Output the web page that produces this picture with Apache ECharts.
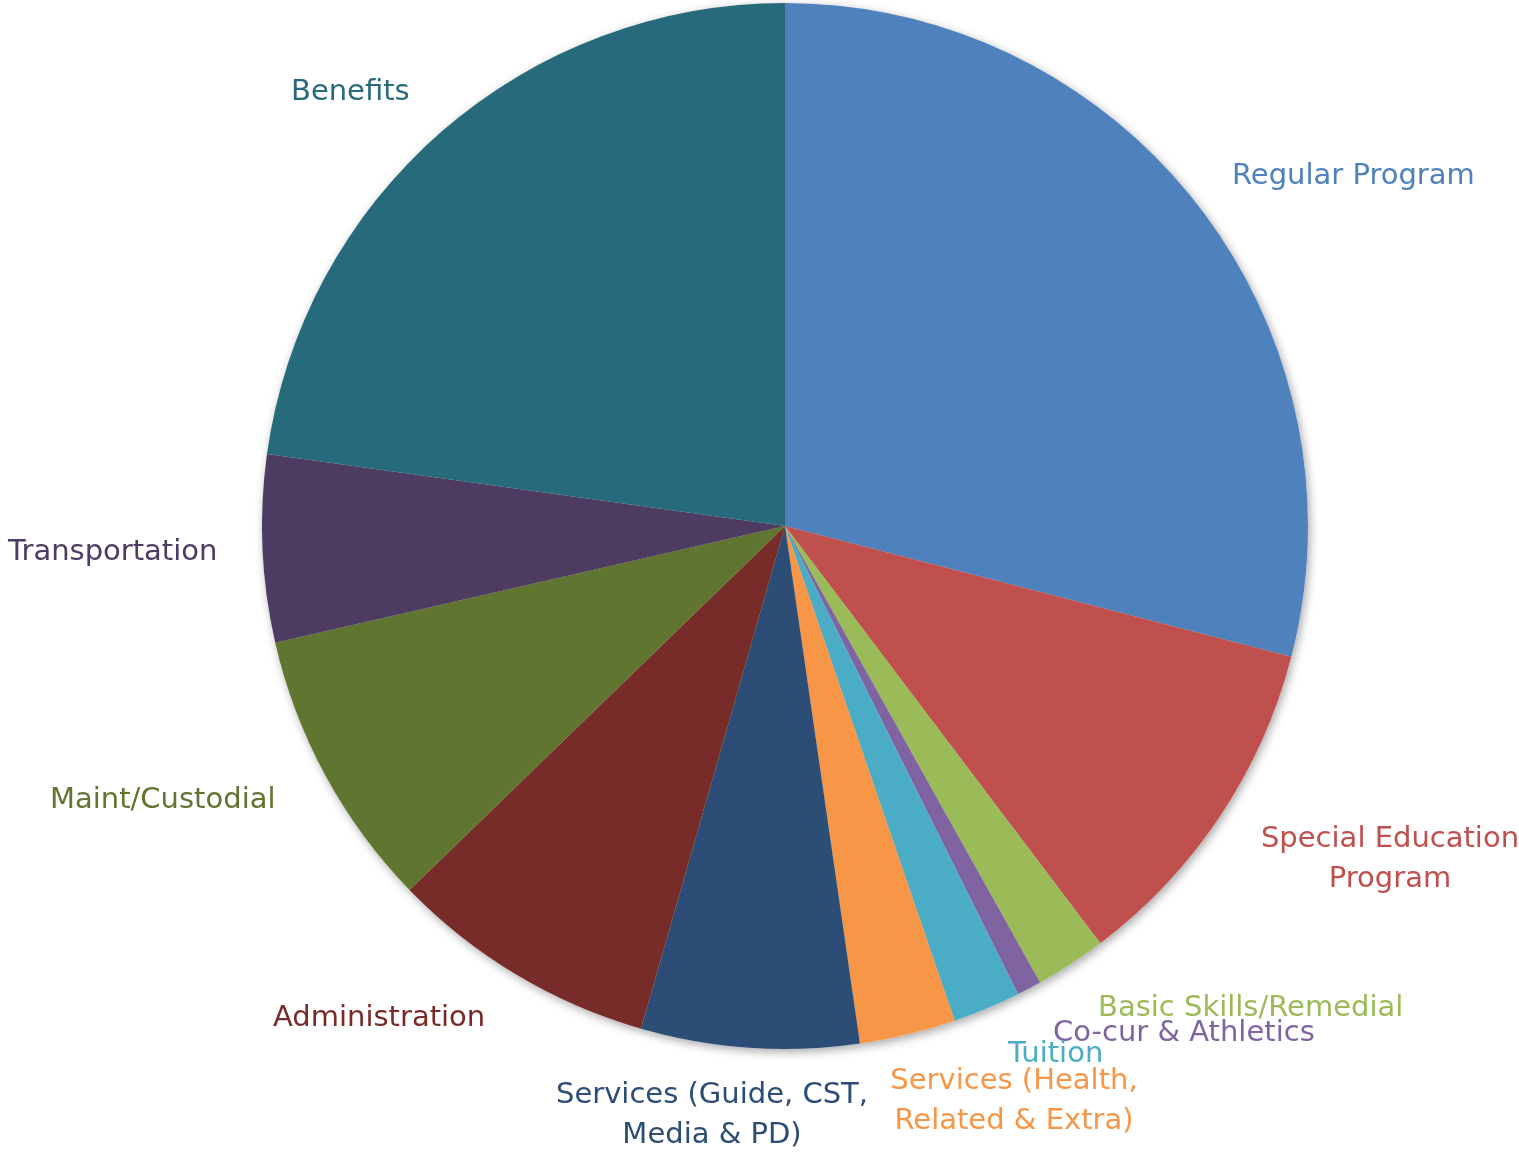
<!DOCTYPE html>
<html>
<head>
<meta charset="utf-8">
<script src="https://cdn.jsdelivr.net/npm/echarts@6/dist/echarts.min.js"></script>
<style>
  html, body { margin: 0; padding: 0; background: #fff; }
  #main { width: 1519px; height: 1153px; }
</style>
</head>
<body>
<div id="main"></div>
<script>
// Budget share by category (percent)
var categories = [
  'Regular Program',
  'Special Education\nProgram',
  'Basic Skills/Remedial',
  'Co-cur & Athletics',
  'Tuition',
  'Services (Health,\nRelated & Extra)',
  'Services (Guide, CST,\nMedia & PD)',
  'Administration',
  'Maint/Custodial',
  'Transportation',
  'Benefits'
];
var shares = [29.03, 10.68, 2.19, 0.76, 2.09, 2.97, 6.73, 8.31, 8.67, 5.78, 22.81];

var colors = ['#4F81BD', '#C0504D', '#9BBB59', '#8064A2', '#4BACC6', '#F79646',
              '#2C4D75', '#772C2A', '#5F7530', '#4D3B62', '#276A7C'];

// where each label sits (hand placed, like the original)
var labelSpots = [
  { x: 1232, y: 176, align: 'left' },
  { x: 1390, y: 859, align: 'center' },
  { x: 1098, y: 1008, align: 'left' },
  { x: 1053, y: 1033, align: 'left' },
  { x: 1008, y: 1054, align: 'left' },
  { x: 1014, y: 1101, align: 'center' },
  { x: 712, y: 1115, align: 'center' },
  { x: 273, y: 1018, align: 'left' },
  { x: 50, y: 800, align: 'left' },
  { x: 8, y: 552, align: 'left' },
  { x: 291, y: 92, align: 'left' }
];

var myChart = echarts.init(document.getElementById('main'));

var pieData = categories.map(function (name, i) {
  return {
    name: name,
    value: shares[i],
    itemStyle: { color: colors[i] },
    label: { color: colors[i] }
  };
});

// white copy underneath only to carry the drop shadow
var shadowData = categories.map(function (name, i) {
  return { name: name, value: shares[i] };
});

var option = {
  animation: false,
  series: [
    {
      type: 'pie',
      silent: true,
      z: 1,
      center: [785, 526],
      radius: 523,
      startAngle: 90,
      data: shadowData,
      label: { show: false },
      labelLine: { show: false },
      itemStyle: {
        color: '#ffffff',
        borderWidth: 0,
        shadowBlur: 10,
        shadowOffsetX: 2,
        shadowOffsetY: 3,
        shadowColor: 'rgba(0,0,0,0.35)'
      }
    },
    {
      type: 'pie',
      z: 2,
      center: [785, 526],
      radius: 523,
      startAngle: 90,
      clockwise: true,
      data: pieData,
      itemStyle: { borderWidth: 0 },
      labelLine: { show: false },
      label: {
        show: true,
        position: 'outside',
        overflow: 'none',
        fontFamily: '"DejaVu Sans", sans-serif',
        fontSize: 29,
        lineHeight: 40
      },
      labelLayout: function (params) {
        var s = labelSpots[params.dataIndex];
        return {
          x: s.x,
          y: s.y,
          align: s.align,
          verticalAlign: 'middle',
          hideOverlap: false,
          moveOverlap: false
        };
      }
    }
  ]
};

myChart.setOption(option);
</script>
</body>
</html>
